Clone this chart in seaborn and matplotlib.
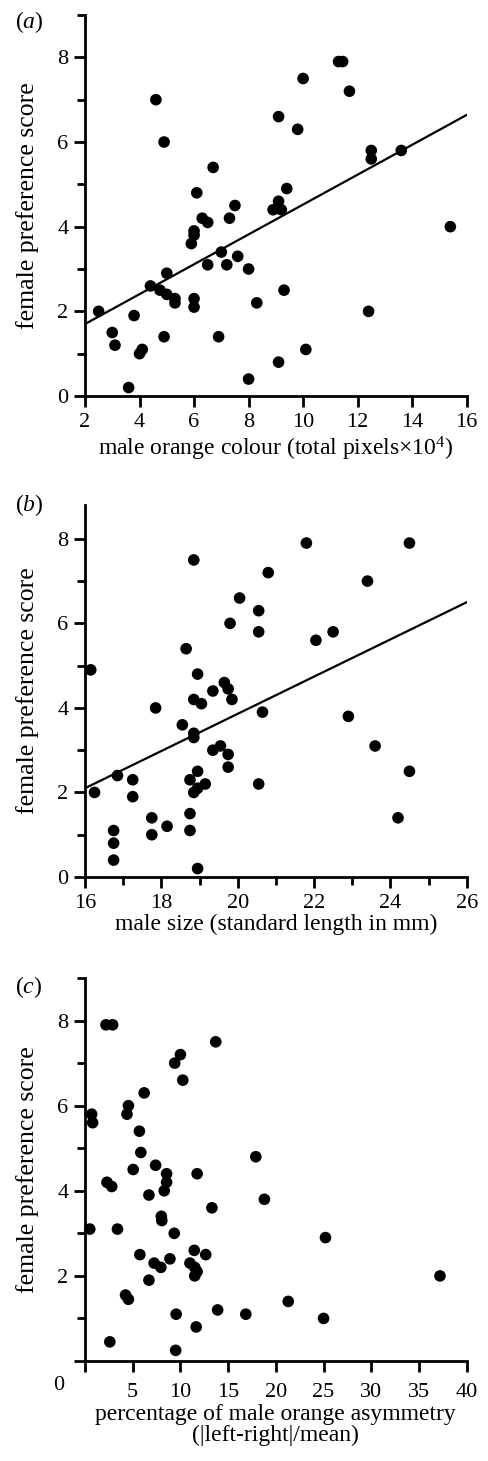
import matplotlib
matplotlib.use("Agg")
import matplotlib.pyplot as plt
import seaborn as sns
import pandas as pd
from matplotlib.ticker import MultipleLocator

# -----------------------------
# Data
# -----------------------------
# (a) male orange colour (total pixels x 10^4) vs female preference
colour_x = [4.6, 4.9, 6.7, 6.1, 10.0, 11.3, 11.45, 11.7, 9.1, 9.8, 12.5, 12.5, 13.6,
            9.4, 9.1, 8.9, 9.2, 7.5, 6.3, 6.5, 7.3, 6.0, 6.0, 5.9, 15.4, 7.0, 7.6,
            6.5, 7.2, 8.0, 5.0, 4.4, 4.75, 5.0, 5.3, 5.3, 6.0, 6.0, 8.3, 9.3, 12.4,
            2.5, 3.0, 3.1, 3.8, 4.9, 6.9, 4.0, 4.1, 10.1, 9.1, 8.0, 3.6]
colour_y = [7.0, 6.0, 5.4, 4.8, 7.5, 7.9, 7.9, 7.2, 6.6, 6.3, 5.8, 5.6, 5.8,
            4.9, 4.6, 4.4, 4.4, 4.5, 4.2, 4.1, 4.2, 3.9, 3.8, 3.6, 4.0, 3.4, 3.3,
            3.1, 3.1, 3.0, 2.9, 2.6, 2.5, 2.4, 2.3, 2.2, 2.3, 2.1, 2.2, 2.5, 2.0,
            2.0, 1.5, 1.2, 1.9, 1.4, 1.4, 1.0, 1.1, 1.1, 0.8, 0.4, 0.2]
colour_fit_x = [2, 16]
colour_fit_y = [1.70, 6.64]

# (b) male size (standard length in mm) vs female preference
size_x = [18.85, 21.8, 24.5, 20.8, 23.4, 20.05, 20.55, 19.8, 20.55, 22.5, 22.05, 18.65,
          16.15, 18.95, 19.65, 19.75, 19.85, 19.35, 18.85, 19.05, 17.85, 20.65, 22.9,
          18.55, 18.85, 18.85, 23.6, 19.35, 19.55, 19.75, 19.75, 24.5, 16.85, 17.25,
          17.25, 16.25, 18.75, 18.95, 18.85, 18.95, 19.15, 20.55, 24.2, 17.75, 18.15,
          17.75, 18.75, 18.75, 16.75, 16.75, 16.75, 18.95]
size_y = [7.5, 7.9, 7.9, 7.2, 7.0, 6.6, 6.3, 6.0, 5.8, 5.8, 5.6, 5.4,
          4.9, 4.8, 4.6, 4.45, 4.2, 4.4, 4.2, 4.1, 4.0, 3.9, 3.8,
          3.6, 3.4, 3.3, 3.1, 3.0, 3.1, 2.9, 2.6, 2.5, 2.4, 2.3,
          1.9, 2.0, 2.3, 2.5, 2.0, 2.1, 2.2, 2.2, 1.4, 1.4, 1.2,
          1.0, 1.5, 1.1, 1.1, 0.8, 0.4, 0.2]
size_fit_x = [16, 26]
size_fit_y = [2.1, 6.5]

# (c) percentage of male orange asymmetry vs female preference
asym_x = [2.2, 2.9, 13.7, 10.0, 9.4, 10.25, 6.2, 0.7, 0.8, 4.55, 4.4, 5.7, 5.85, 17.9,
          5.05, 7.4, 8.55, 8.55, 8.3, 11.75, 2.3, 2.8, 6.7, 18.8, 13.3, 8.0, 8.05,
          0.5, 3.4, 9.35, 25.2, 5.75, 11.45, 12.65, 7.25, 7.95, 8.9, 11.0, 11.5,
          11.75, 11.5, 6.7, 37.2, 4.25, 4.55, 21.3, 9.55, 13.9, 16.85, 25.0, 11.65,
          2.6, 9.5]
asym_y = [7.9, 7.9, 7.5, 7.2, 7.0, 6.6, 6.3, 5.8, 5.6, 6.0, 5.8, 5.4, 4.9, 4.8,
          4.5, 4.6, 4.4, 4.2, 4.0, 4.4, 4.2, 4.1, 3.9, 3.8, 3.6, 3.4, 3.3,
          3.1, 3.1, 3.0, 2.9, 2.5, 2.6, 2.5, 2.3, 2.2, 2.4, 2.3, 2.2,
          2.1, 2.0, 1.9, 2.0, 1.55, 1.45, 1.4, 1.1, 1.2, 1.1, 1.0, 0.8,
          0.45, 0.25]

df_a = pd.DataFrame({"x": colour_x, "y": colour_y})
df_b = pd.DataFrame({"x": size_x, "y": size_y})
df_c = pd.DataFrame({"x": asym_x, "y": asym_y})

# -----------------------------
# Style
# -----------------------------
sns.set_theme(style="ticks")
plt.rcParams["font.family"] = ["Liberation Serif", "DejaVu Serif"]
plt.rcParams["mathtext.fontset"] = "custom"
plt.rcParams["mathtext.rm"] = "Liberation Serif"
plt.rcParams["mathtext.it"] = "Liberation Serif:italic"
plt.rcParams["axes.linewidth"] = 2.0
plt.rcParams["axes.edgecolor"] = "black"
plt.rcParams["xtick.color"] = "black"
plt.rcParams["ytick.color"] = "black"
plt.rcParams["text.color"] = "black"
plt.rcParams["axes.labelcolor"] = "black"

TICK_FS = 16
LABEL_FS = 17
YLABEL_FS = 18.5

fig = plt.figure(figsize=(4.88, 14.61), dpi=100)

left = 85 / 488
width = (466.7 - 85) / 488
ax_a = fig.add_axes([left, 1 - 396 / 1461, width, 381 / 1461])
ax_b = fig.add_axes([left, 1 - 877 / 1461, width, 372 / 1461])
ax_c = fig.add_axes([left, 1 - 1361 / 1461, width, 383 / 1461])


def style_axis(ax):
    sns.despine(ax=ax)
    ax.set_facecolor("white")
    ax.tick_params(which="major", direction="out", length=8, width=2,
                   labelsize=TICK_FS, pad=4)
    ax.tick_params(which="minor", direction="out", length=5.5, width=2)
    ax.yaxis.set_major_locator(MultipleLocator(2))
    ax.yaxis.set_minor_locator(MultipleLocator(1))
    ax.set_ylabel("female preference score", fontsize=YLABEL_FS)
    ax.yaxis.set_label_coords(-0.12, 0.5)


# panel (a)
sns.scatterplot(data=df_a, x="x", y="y", ax=ax_a, color="black", s=70,
                edgecolor="none", clip_on=False)
sns.lineplot(x=colour_fit_x, y=colour_fit_y, ax=ax_a, color="black", linewidth=1.6)
ax_a.set_xlim(2, 16)
ax_a.set_ylim(0, 9)
style_axis(ax_a)
ax_a.xaxis.set_major_locator(MultipleLocator(2))
ax_a.set_xlabel(r"male orange colour (total pixels$\times$10$^{4}$)",
                fontsize=LABEL_FS, labelpad=2)

# panel (b)
sns.scatterplot(data=df_b, x="x", y="y", ax=ax_b, color="black", s=70,
                edgecolor="none", clip_on=False)
sns.lineplot(x=size_fit_x, y=size_fit_y, ax=ax_b, color="black", linewidth=1.6)
ax_b.set_xlim(16, 26)
ax_b.set_ylim(0, 8.8)
style_axis(ax_b)
ax_b.xaxis.set_major_locator(MultipleLocator(2))
ax_b.xaxis.set_minor_locator(MultipleLocator(1))
ax_b.set_xlabel("male size (standard length in mm)", fontsize=LABEL_FS, labelpad=1)

# panel (c)
sns.scatterplot(data=df_c, x="x", y="y", ax=ax_c, color="black", s=70,
                edgecolor="none", clip_on=False)
ax_c.set_xlim(0, 40)
ax_c.set_ylim(0, 9)
style_axis(ax_c)
ax_c.set_xticks(range(0, 41, 5))
ax_c.set_xticklabels([""] + [str(v) for v in range(5, 41, 5)])
ax_c.set_yticks(range(0, 9, 2))
ax_c.set_yticklabels([""] + [str(v) for v in range(2, 9, 2)])
ax_c.tick_params(axis="x", which="major", pad=8)
ax_c.text(-0.07, -0.063, "0", transform=ax_c.transAxes, fontsize=TICK_FS,
          ha="center", va="center")
ax_c.set_xlabel("percentage of male orange asymmetry\n(|left-right|/mean)",
                fontsize=LABEL_FS, labelpad=1, linespacing=1.0)

# panel letters
for letter, ypx in [("a", 22), ("b", 505), ("c", 987)]:
    fig.text(29 / 488, 1 - ypx / 1461, "(" + r"$\mathit{" + letter + "}$" + ")",
             fontsize=LABEL_FS, ha="center", va="center")

fig.savefig("out.png", dpi=100)
